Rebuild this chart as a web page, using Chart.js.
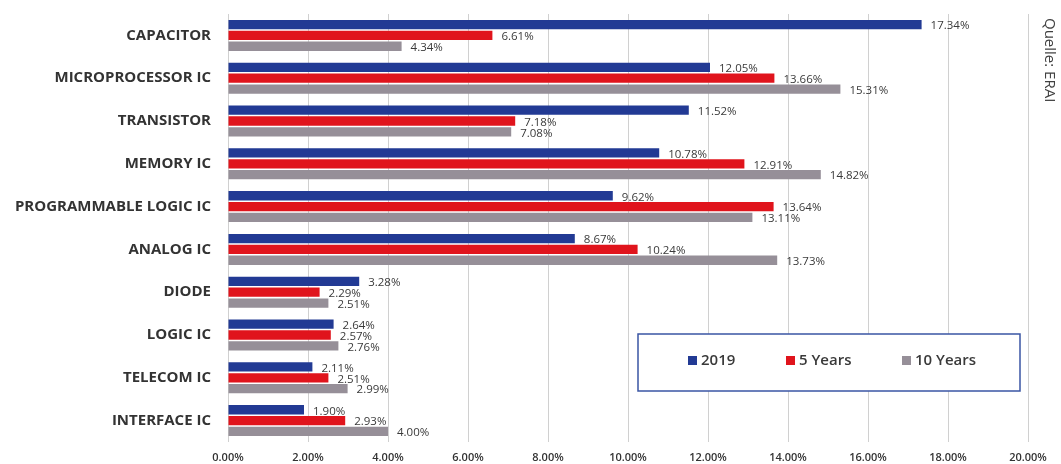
<!DOCTYPE html>
<html><head><meta charset="utf-8">
<script src="https://cdn.jsdelivr.net/npm/chart.js@4/dist/chart.umd.min.js"></script>
<style>html,body{margin:0;padding:0;background:#fff;}#wrap{position:relative;width:1061px;height:464px;}</style>
</head><body><div id="wrap"><canvas id="c" width="1061" height="464"></canvas></div>
<script>
const categories = ["CAPACITOR","MICROPROCESSOR IC","TRANSISTOR","MEMORY IC","PROGRAMMABLE LOGIC IC","ANALOG IC","DIODE","LOGIC IC","TELECOM IC","INTERFACE IC"];
const series2019 = [17.34,12.05,11.52,10.78,9.62,8.67,3.28,2.64,2.11,1.90];
const series5y = [6.61,13.66,7.18,12.91,13.64,10.24,2.29,2.57,2.51,2.93];
const series10y = [4.34,15.31,7.08,14.82,13.11,13.73,2.51,2.76,2.99,4.00];
const seriesNames = ["2019","5 Years","10 Years"];
const xTicks = [0,2,4,6,8,10,12,14,16,18,20];
const sourceText = "Quelle: ERAI";

const colors = ["#223a94","#e0141c","#968f98"];

const labelPlugin = {
  id:'vals',
  afterDatasetsDraw(chart){
    const ctx = chart.ctx;
    ctx.save();
    ctx.font = "11.5px 'Open Sans'";
    ctx.fillStyle = "#3a3a3a";
    ctx.textBaseline = "middle";
    ctx.textAlign = "left";
    chart.data.datasets.forEach((ds,i)=>{
      const meta = chart.getDatasetMeta(i);
      meta.data.forEach((el,j)=>{
        ctx.fillText(ds.data[j].toFixed(2)+"%", el.x+9, el.y+1.5);
      });
    });
    ctx.restore();
  },
  afterDraw(chart){
    const ctx = chart.ctx;
    ctx.save();
    const bx=638, by=334, bw=382, bh=57;
    ctx.strokeStyle="#3a55a4"; ctx.lineWidth=1.5;
    ctx.fillStyle="#fff";
    ctx.fillRect(bx,by,bw,bh);
    ctx.strokeRect(bx,by,bw,bh);
    const xs=[688,786,902];
    ctx.font="600 15px 'Open Sans'";
    ctx.textBaseline="middle"; ctx.textAlign="left";
    chart.data.datasets.forEach((ds,i)=>{
      ctx.fillStyle=ds.backgroundColor;
      ctx.fillRect(xs[i],356,9,9);
      ctx.fillStyle="#3a3a3a";
      ctx.fillText(ds.label, xs[i]+13, 361);
    });
    ctx.translate(1049,18);
    ctx.rotate(Math.PI/2);
    ctx.font="15px 'Open Sans'";
    ctx.fillStyle="#404040";
    ctx.textBaseline="middle";
    ctx.fillText(sourceText,0,0);
    ctx.restore();
  }
};

new Chart(document.getElementById('c'),{
  type:'bar',
  data:{
    labels:categories,
    datasets:[
      {label:seriesNames[0],data:series2019,backgroundColor:colors[0]},
      {label:seriesNames[1],data:series5y,backgroundColor:colors[1]},
      {label:seriesNames[2],data:series10y,backgroundColor:colors[2]}
    ]
  },
  options:{
    indexAxis:'y',
    responsive:false,
    animation:false,
    categoryPercentage:0.76,
    barPercentage:0.86,
    layout:{padding:{left:0,right:33,top:14,bottom:0}},
    plugins:{legend:{display:false},tooltip:{enabled:false}},
    scales:{
      x:{
        min:0,max:20,
        afterBuildTicks(s){ s.ticks = xTicks.map(v=>({value:v})); },
        afterFit(s){ s.height=22; s.paddingLeft=0; s.paddingRight=0; },
        grid:{color:"#d0d0d0",lineWidth:1,drawTicks:false},
        border:{display:false},
        ticks:{padding:9,color:"#333",font:{family:"'Open Sans'",size:11,weight:'600'},callback:v=>Number(v).toFixed(2)+"%"}
      },
      y:{
        afterFit(s){ s.width=228; s.paddingTop=0; s.paddingBottom=0; },
        grid:{display:false},
        border:{display:false},
        ticks:{padding:9,color:"#333",font:{family:"'Open Sans'",size:15,weight:'bold'}}
      }
    }
  },
  plugins:[labelPlugin]
});
</script></body></html>
